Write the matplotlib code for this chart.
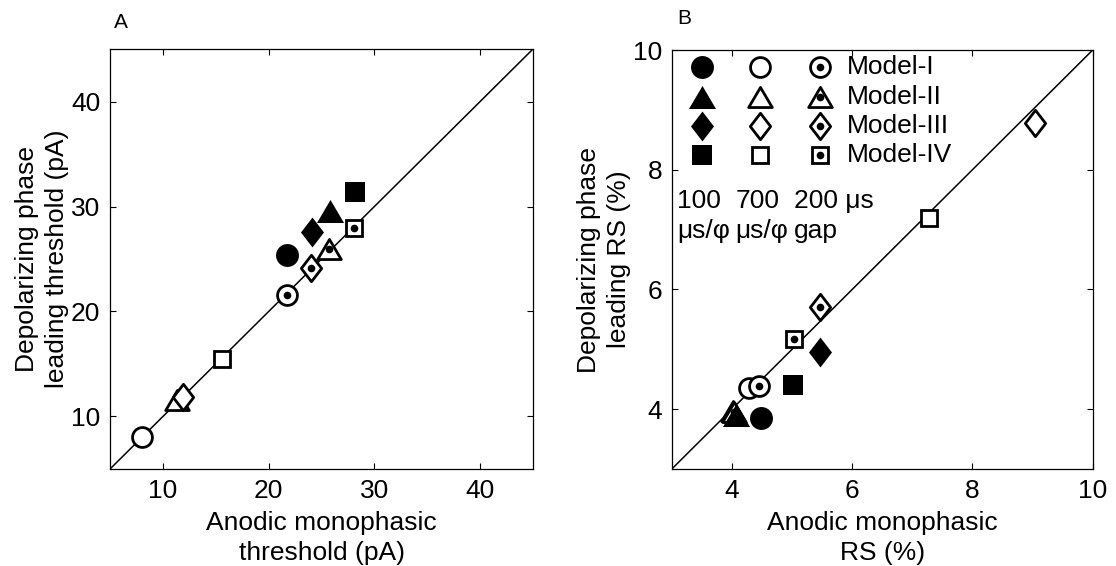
import matplotlib
matplotlib.use("Agg")
import matplotlib.pyplot as plt
from matplotlib.path import Path

plt.rcParams['font.family'] = ['Liberation Sans', 'DejaVu Sans']

# data: one entry per model (I, II, III, IV)
models = ['Model-I', 'Model-II', 'Model-III', 'Model-IV']

# panel A: thresholds (pA)
a_x_100 = [21.7, 25.8, 24.1, 28.2]
a_y_100 = [25.4, 29.6, 27.6, 31.4]
a_x_700 = [8.0, 11.3, 11.9, 15.6]
a_y_700 = [8.0, 11.6, 11.9, 15.5]
a_x_gap = [21.7, 25.7, 24.0, 28.1]
a_y_gap = [21.6, 26.0, 24.1, 28.0]

# panel B: relative spread (%)
b_x_100 = [4.49, 4.06, 5.46, 5.02]
b_y_100 = [3.86, 3.90, 4.95, 4.41]
b_x_700 = [4.29, 4.02, 9.05, 7.28]
b_y_700 = [4.35, 3.97, 8.78, 7.20]
b_x_gap = [4.45, 4.04, 5.46, 5.03]
b_y_gap = [4.39, 3.95, 5.71, 5.17]

a_ticks = [10, 20, 30, 40]
b_ticks = [4, 6, 8, 10]

FS = 19

# marker shapes
tri = Path([(-1, -0.85), (1, -0.85), (0, 0.85), (-1, -0.85)], closed=True)
dia = Path([(0, 1), (0.77, 0), (0, -1), (-0.77, 0), (0, 1)], closed=True)
shapes = ['o', tri, dia, 's']
filled_ms = [16.5, 19.5, 21.5, 14.4]
open_ms = [14.3, 17.0, 19.0, 12.2]
MEW = 2.0


def draw_filled(ax, x, y, i, **kw):
    ax.plot(x, y, linestyle='none', marker=shapes[i], ms=filled_ms[i],
            mfc='black', mec='black', mew=0, **kw)


def draw_open(ax, x, y, i, **kw):
    ax.plot(x, y, linestyle='none', marker=shapes[i], ms=open_ms[i],
            mfc='white', mec='black', mew=MEW, **kw)


def draw_dot(ax, x, y, i, **kw):
    draw_open(ax, x, y, i, **kw)
    ax.plot(x, y, linestyle='none', marker='o', ms=5.5,
            mfc='black', mec='black', mew=0, **kw)


def style_axes(ax, lo, hi, ticks):
    ax.set_xlim(lo, hi)
    ax.set_ylim(lo, hi)
    ax.set_xticks(ticks)
    ax.set_yticks(ticks)
    ax.plot([lo, hi], [lo, hi], color='black', lw=1.1, zorder=1)
    ax.tick_params(direction='in', top=True, right=True, length=4,
                   width=0.8, labelsize=FS, pad=7)
    for s in ax.spines.values():
        s.set_linewidth(0.9)


fig = plt.figure(figsize=(11.16, 5.66), dpi=100)
axA = fig.add_axes([0.0986, 0.1714, 0.379, 0.742])
axB = fig.add_axes([0.602, 0.1714, 0.377, 0.740])

# panel A
style_axes(axA, 5, 45, a_ticks)
for i in range(len(models)):
    draw_open(axA, a_x_700[i], a_y_700[i], i, zorder=3)
    draw_dot(axA, a_x_gap[i], a_y_gap[i], i, zorder=3)
    draw_filled(axA, a_x_100[i], a_y_100[i], i, zorder=4)
axA.set_xlabel('Anodic monophasic\nthreshold (pA)', fontsize=FS,
               linespacing=1.3)
axA.set_ylabel('Depolarizing phase\nleading threshold (pA)', fontsize=FS,
               linespacing=1.3)
axA.xaxis.set_label_coords(0.5, -0.1)
axA.yaxis.set_label_coords(-0.097, 0.5)

# panel B
style_axes(axB, 3, 10, b_ticks)
for i in range(len(models)):
    draw_open(axB, b_x_700[i], b_y_700[i], i, zorder=3)
    draw_dot(axB, b_x_gap[i], b_y_gap[i], i, zorder=3)
    draw_filled(axB, b_x_100[i], b_y_100[i], i, zorder=4)
axB.set_xlabel('Anodic monophasic\nRS (%)', fontsize=FS, linespacing=1.3)
axB.set_ylabel('Depolarizing phase\nleading RS (%)', fontsize=FS,
               linespacing=1.3)
axB.xaxis.set_label_coords(0.5, -0.1)
axB.yaxis.set_label_coords(-0.097, 0.5)

# key drawn inside panel B
col_x = [0.071, 0.209, 0.352]
row_y = [0.960, 0.887, 0.818, 0.749]
for i, name in enumerate(models):
    kw = dict(transform=axB.transAxes, clip_on=False, zorder=5)
    draw_filled(axB, col_x[0], row_y[i], i, **kw)
    draw_open(axB, col_x[1], row_y[i], i, **kw)
    draw_dot(axB, col_x[2], row_y[i], i, **kw)
    axB.text(0.416, row_y[i], name, transform=axB.transAxes, fontsize=FS,
             va='center', ha='left')
key_top = ['100', '700', '200 \u03bcs']
key_bot = ['\u03bcs/\u03c6', '\u03bcs/\u03c6', 'gap']
for j, xk in enumerate([0.012, 0.151, 0.29]):
    axB.text(xk, 0.641, key_top[j], transform=axB.transAxes, fontsize=FS,
             va='center', ha='left')
    axB.text(xk, 0.568, key_bot[j], transform=axB.transAxes, fontsize=FS,
             va='center', ha='left')

fig.text(121 / 1116, 1 - 22 / 566, 'A', fontsize=15, ha='center', va='center')
fig.text(684 / 1116, 1 - 19 / 566, 'B', fontsize=15, ha='center', va='center')

fig.savefig('out.png', dpi=100)
